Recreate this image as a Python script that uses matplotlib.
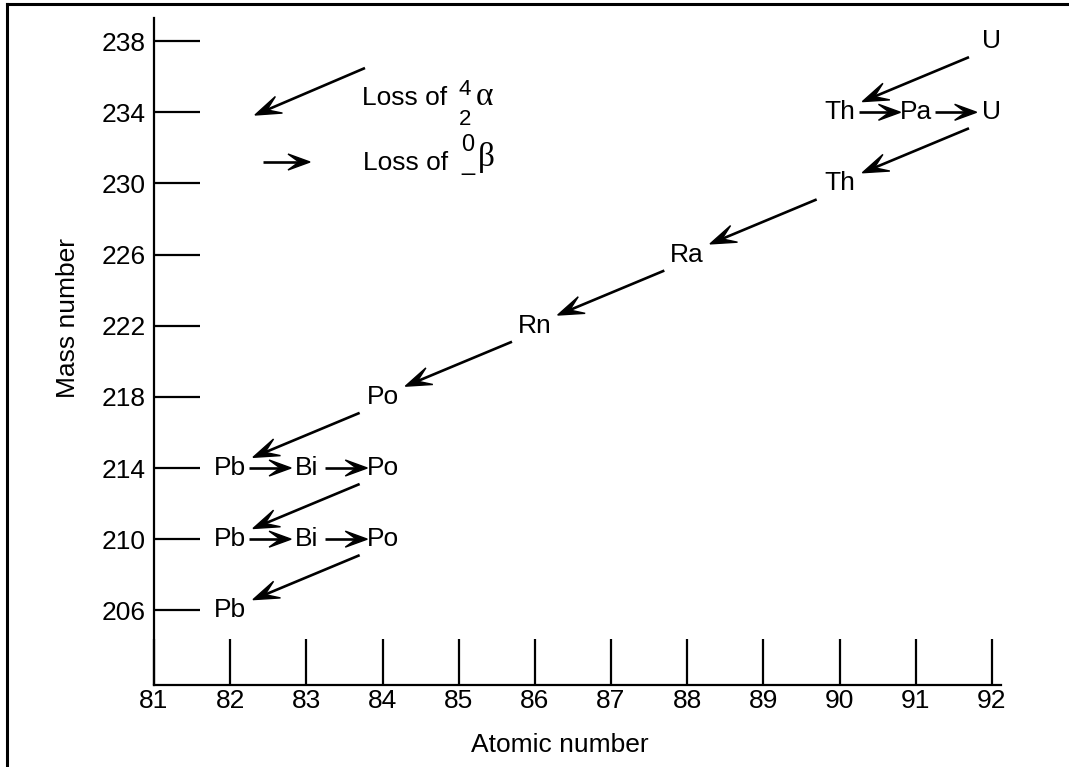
import numpy as np
import matplotlib.pyplot as plt
from matplotlib.lines import Line2D
from matplotlib.patches import Polygon
from matplotlib.transforms import IdentityTransform

plt.rcParams['font.family'] = ['Liberation Sans', 'DejaVu Sans']

# decay chain U-238 -> Pb-206
symbols = ['U', 'Th', 'Pa', 'U', 'Th', 'Ra', 'Rn', 'Po', 'Pb', 'Bi', 'Po', 'Pb', 'Bi', 'Po', 'Pb']
atomic = [92, 90, 91, 92, 90, 88, 86, 84, 82, 83, 84, 82, 83, 84, 82]
mass = [238, 234, 234, 234, 230, 226, 222, 218, 214, 214, 214, 210, 210, 210, 206]

x_ticks = list(range(81, 93))
y_ticks = [206, 210, 214, 218, 222, 226, 230, 234, 238]

fs = 19
W, H = 1069, 767
fig = plt.figure(figsize=(W / 100, H / 100), dpi=100)
ax = fig.add_axes([154 / W, 1 - 685 / H, (1001 - 154) / W, (685 - 18) / H])

ax.set_xlim(81, 92.12)
ax.set_ylim(201.8, 239.3)
for s in ['top', 'right']:
    ax.spines[s].set_visible(False)
for s in ['left', 'bottom']:
    ax.spines[s].set_linewidth(1.6)

ax.set_xticks(x_ticks)
ax.set_yticks(y_ticks)
ax.tick_params(direction='in', length=33, width=1.6, labelsize=fs)
ax.tick_params(axis='x', pad=3)
ax.tick_params(axis='y', pad=6)

ax.set_xlabel('Atomic number', fontsize=fs)
ax.set_ylabel('Mass number', fontsize=fs)
ax.xaxis.set_label_coords((560 - 154) / 847, (685 - 733) / 667)
ax.yaxis.set_label_coords((80 - 154) / 847, (685 - 318) / 667)


def pix(px, py):
    # pixel position (from top left) -> figure fraction
    return px / W, 1 - py / H


def arrow(p0, p1, trans, head=26, half=9, notch=13):
    # straight shaft with a swept-back dart head, head drawn in pixels
    a = np.array(trans.transform(p0))
    b = np.array(trans.transform(p1))
    d = (b - a) / np.hypot(*(b - a))
    n = np.array([-d[1], d[0]])
    back = b - d * notch
    line = Line2D([a[0], back[0]], [a[1], back[1]], transform=IdentityTransform(),
                  color='black', lw=1.9, solid_capstyle='butt')
    fig.add_artist(line)
    pts = [b, b - d * head + n * half, back, b - d * head - n * half]
    fig.add_artist(Polygon(pts, closed=True, transform=IdentityTransform(),
                           facecolor='black', edgecolor='black', lw=1.0))


# element labels
for sym, z, a in zip(symbols, atomic, mass):
    ax.text(z, a, sym, ha='center', va='center', fontsize=fs)

# decay arrows: same mass -> beta (horizontal), else alpha (diagonal)
for i in range(len(symbols) - 1):
    z1, a1 = atomic[i], mass[i]
    z2, a2 = atomic[i + 1], mass[i + 1]
    if a1 == a2:
        arrow((z1 + 0.25, a1), (z2 - 0.2, a2), ax.transData, head=22, half=8, notch=11)
    else:
        arrow((z1 - 0.3, a1 - 0.9), (z2 + 0.3, a2 + 0.6), ax.transData)

# key
arrow(pix(365, 68), pix(255, 115), fig.transFigure)
arrow(pix(263, 162), pix(310, 162), fig.transFigure, head=22, half=8, notch=11)

ff = fig.transFigure
fig.text(*pix(362, 105), 'Loss of', fontsize=fs, va='baseline', transform=ff)
fig.text(*pix(465, 125), '4\n2', fontsize=16, ha='center', va='baseline',
         multialignment='center', linespacing=1.55, transform=ff)
fig.text(*pix(476, 105), '\u03b1', fontsize=24, family='Liberation Serif', va='baseline', transform=ff)

fig.text(*pix(363, 170), 'Loss of', fontsize=fs, va='baseline', transform=ff)
fig.text(*pix(468, 170), '0\n_', fontsize=17, ha='center', va='baseline',
         multialignment='center', linespacing=0.8, transform=ff)
fig.text(*pix(478, 166), '\u03b2', fontsize=24, family='Liberation Serif', va='baseline', transform=ff)

# frame lines of the original picture
fig.add_artist(Line2D([7 / W, 7 / W], [0, 1 - 4 / H], transform=ff, color='black', lw=2.2))
fig.add_artist(Line2D([7 / W, 1], [1 - 4 / H, 1 - 4 / H], transform=ff, color='black', lw=2.2))

fig.savefig('out.png', dpi=100)
